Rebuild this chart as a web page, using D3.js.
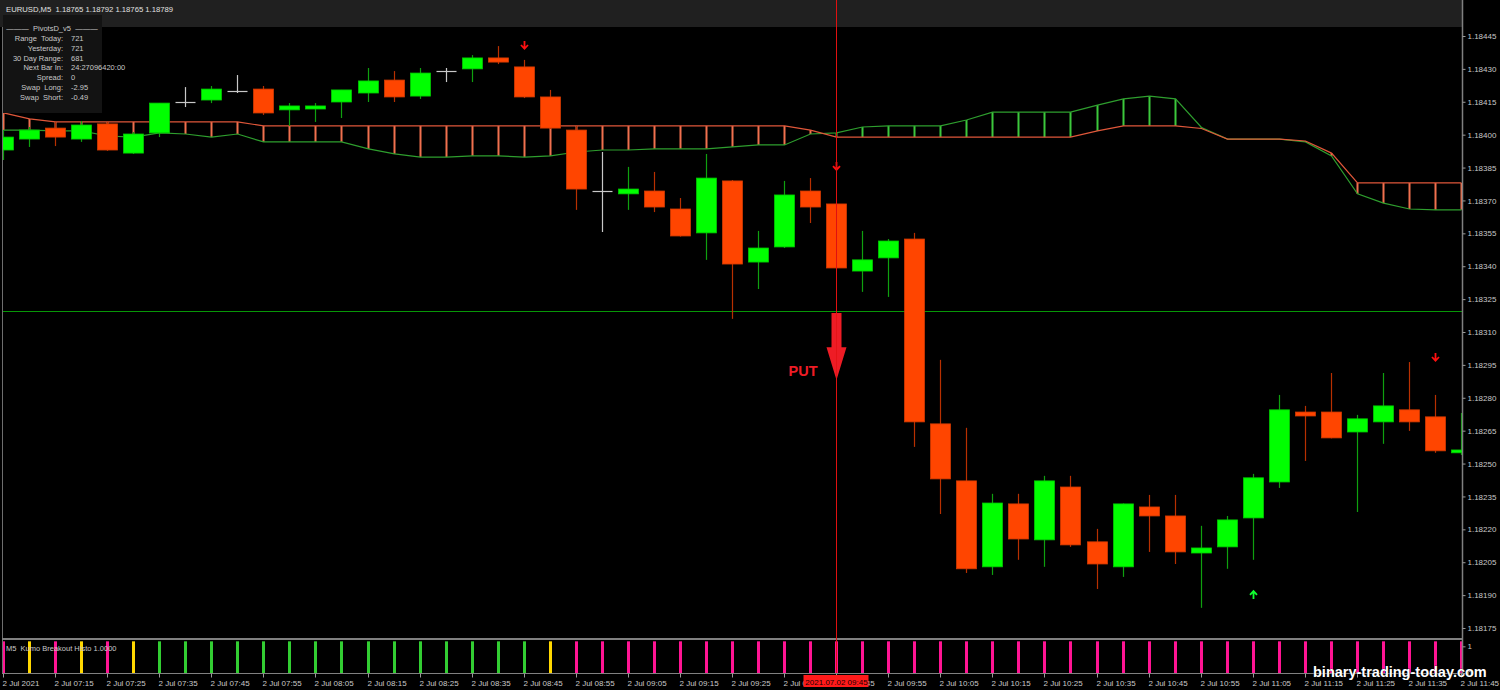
<!DOCTYPE html>
<html><head><meta charset="utf-8">
<script src="https://cdn.jsdelivr.net/npm/d3@7"></script>
<style>html,body{margin:0;padding:0;background:#000;overflow:hidden}svg{display:block}text{white-space:pre}</style>
</head><body><svg id="c" width="1500" height="690"></svg>
<script>
// ---- data ----
const times = ["07:05","07:10","07:15","07:20","07:25","07:30","07:35","07:40","07:45","07:50","07:55","08:00","08:05","08:10","08:15","08:20","08:25","08:30","08:35","08:40","08:45","08:50","08:55","09:00","09:05","09:10","09:15","09:20","09:25","09:30","09:35","09:40","09:45","09:50","09:55","10:00","10:05","10:10","10:15","10:20","10:25","10:30","10:35","10:40","10:45","10:50","10:55","11:00","11:05","11:10","11:15","11:20","11:25","11:30","11:35","11:40","11:45"];
const open  = [1.183930,1.183980,1.184030,1.183980,1.184049,1.183916,1.184008,1.184149,1.184158,1.184199,1.184208,1.184113,1.184117,1.184149,1.184190,1.184249,1.184176,1.184290,1.184300,1.184350,1.184309,1.184172,1.184021,1.183743,1.183730,1.183743,1.183661,1.183552,1.183789,1.183419,1.183488,1.183743,1.183684,1.183378,1.183438,1.183524,1.182681,1.182421,1.182029,1.182316,1.182152,1.182393,1.182143,1.182029,1.182302,1.182261,1.182092,1.182120,1.182252,1.182416,1.182735,1.182735,1.182644,1.182690,1.182745,1.182713,1.182549];
const high  = [1.184021,1.184035,1.184058,1.184062,1.184058,1.184012,1.184144,1.184217,1.184222,1.184272,1.184222,1.184144,1.184144,1.184204,1.184304,1.184290,1.184304,1.184304,1.184363,1.184404,1.184341,1.184204,1.184040,1.183921,1.183853,1.183830,1.183711,1.183912,1.183793,1.183561,1.183789,1.183802,1.183686,1.183561,1.183524,1.183552,1.182973,1.182663,1.182362,1.182362,1.182444,1.182444,1.182202,1.182318,1.182357,1.182357,1.182216,1.182261,1.182453,1.182813,1.182763,1.182913,1.182722,1.182913,1.182963,1.182813,1.182731];
const low   = [1.183885,1.183944,1.183948,1.183967,1.183926,1.183912,1.183989,1.184126,1.184144,1.184190,1.184090,1.184040,1.184058,1.184076,1.184149,1.184149,1.184163,1.184240,1.184240,1.184322,1.184167,1.184026,1.183657,1.183556,1.183657,1.183647,1.183535,1.183429,1.183160,1.183296,1.183483,1.183597,1.183390,1.183283,1.183260,1.182576,1.182270,1.182001,1.181992,1.182061,1.182029,1.182120,1.181928,1.181983,1.182097,1.182042,1.181842,1.182020,1.182061,1.182389,1.182512,1.182615,1.182279,1.182590,1.182649,1.182549,1.182539];
const close = [1.183989,1.184021,1.183989,1.184044,1.183930,1.184003,1.184144,1.184149,1.184208,1.184199,1.184099,1.184131,1.184131,1.184204,1.184245,1.184172,1.184281,1.184290,1.184350,1.184331,1.184172,1.184030,1.183752,1.183743,1.183752,1.183670,1.183538,1.183802,1.183410,1.183483,1.183725,1.183670,1.183392,1.183429,1.183515,1.182690,1.182430,1.182020,1.182320,1.182156,1.182421,1.182129,1.182042,1.182316,1.182261,1.182097,1.182115,1.182243,1.182435,1.182745,1.182717,1.182617,1.182704,1.182763,1.182690,1.182558,1.182562];
// Kumo lines
const spanA = [1.184099,1.184072,1.184058,1.184058,1.184058,1.184058,1.184058,1.184058,1.184058,1.184058,1.184040,1.184040,1.184040,1.184040,1.184040,1.184040,1.184040,1.184040,1.184040,1.184040,1.184040,1.184040,1.184040,1.184040,1.184040,1.184040,1.184040,1.184040,1.184040,1.184040,1.184040,1.184021,1.183989,1.183989,1.183989,1.183989,1.183989,1.183989,1.183989,1.183989,1.183989,1.183989,1.184017,1.184040,1.184040,1.184040,1.184028,1.183980,1.183980,1.183980,1.183971,1.183916,1.183780,1.183780,1.183780,1.183780,1.183780];
const spanB = [1.184021,1.184021,1.184017,1.184017,1.183994,1.183989,1.184008,1.184003,1.183989,1.184003,1.183967,1.183967,1.183967,1.183967,1.183935,1.183912,1.183898,1.183898,1.183903,1.183903,1.183898,1.183903,1.183921,1.183930,1.183930,1.183935,1.183935,1.183935,1.183944,1.183953,1.183953,1.184003,1.184008,1.184035,1.184040,1.184040,1.184040,1.184067,1.184103,1.184103,1.184103,1.184103,1.184135,1.184163,1.184176,1.184163,1.184033,1.183980,1.183980,1.183980,1.183967,1.183903,1.183730,1.183688,1.183661,1.183657,1.183657];
// Kumo breakout histogram state per bar
const histoState = ["bear","flat","bear","flat","bear","flat","bull","bull","bull","bull","bull","bull","bull","bull","bull","bull","bull","bull","bull","bull","bull","flat","bear","bear","bear","bear","bear","bear","bear","bear","bear","bear","bear","bear","bear","bear","bear","bear","bear","bear","bear","bear","bear","bear","bear","bear","bear","bear","bear","bear","bear","bear","bear","bear","bear","bear","bear"];
const histoValue = new Array(57).fill(1);
// signal arrows
const sigIndex = [20, 32, 48, 55];
const sigType  = ["sell","sell","buy","sell"];
const sigPrice = [1.184409, 1.183857, 1.181901, 1.182986];
// PUT signal
const putIndex = 32, putTop = 1.183187, putTip = 1.182881, putLabel = "PUT";
const hLinePrice = 1.183196;
const crossIndex = 32, crossLabel = "2021.07.02 09:45";
const priceTicks = [1.18445,1.18430,1.18415,1.18400,1.18385,1.18370,1.18355,1.18340,1.18325,1.18310,1.18295,1.18280,1.18265,1.18250,1.18235,1.18220,1.18205,1.18190,1.18175];
const titleText = "EURUSD,M5  1.18765 1.18792 1.18765 1.18789";
const pivotTitle = "———  PivotsD_v5  ———";
const pivotLabels = ["Range  Today:","Yesterday:","30 Day Range:","Next Bar In:","Spread:","Swap  Long:","Swap  Short:"];
const pivotValues = ["721","721","681","24:27096420:00","0","-2.95","-0.49"];
const histoTitle = "M5  Kumo Breakout Histo 1.0000";
const watermark = "binary-trading-today.com";

// ---- drawing ----
const svg = d3.select("#c");
const FONT = "'Liberation Sans', Arial, sans-serif";
const TXT = "#c8c8c8";
svg.append("rect").attr("width",1500).attr("height",690).attr("fill","#000");

const idx = d3.range(open.length);
const x = d3.scaleLinear().domain([0,56]).range([3,1461]);
const y = d3.scaleLinear().domain([1.18175,1.18445]).range([628,36]);
const yH = d3.scaleLinear().domain([0,1.2]).range([673,641]);
const px = i => Math.round(x(i));

// title band
svg.append("rect").attr("x",0).attr("y",0).attr("width",1462).attr("height",27).attr("fill","#202020");

const defs = svg.append("defs");
defs.append("clipPath").attr("id","mainClip").append("rect").attr("x",3).attr("y",0).attr("width",1459).attr("height",637);
const main = svg.append("g").attr("clip-path","url(#mainClip)");

// kumo hatches
main.selectAll("line.hatch").data(idx).join("line")
  .attr("x1",i=>px(i)+0.5).attr("x2",i=>px(i)+0.5)
  .attr("y1",i=>y(spanA[i])).attr("y2",i=>y(spanB[i]))
  .attr("stroke",i=> spanA[i] >= spanB[i] ? "#f0704e" : "#3cc83c")
  .attr("stroke-width",2);
main.append("path").datum(idx).attr("d",d3.line().x(i=>px(i)+0.5).y(i=>y(spanB[i]))).attr("fill","none").attr("stroke","#2e9e2e").attr("stroke-width",1.2);
main.append("path").datum(idx).attr("d",d3.line().x(i=>px(i)+0.5).y(i=>y(spanA[i]))).attr("fill","none").attr("stroke","#e0573a").attr("stroke-width",1.2);

// horizontal level
const hy = Math.round(y(hLinePrice))+0.5;
main.append("line").attr("x1",0).attr("x2",1462).attr("y1",hy).attr("y2",hy).attr("stroke","#079707").attr("stroke-width",1.2);

// candles
const cg = main.append("g");
idx.forEach(i=>{
  const cx = px(i)+0.5;
  const o=open[i], c=close[i];
  const doji = Math.abs(o-c) < 1e-9;
  const bull = c > o;
  const wickCol = doji ? "#c8c8c8" : (bull ? "#0fa00f" : "#b83000");
  cg.append("line").attr("x1",cx).attr("x2",cx).attr("y1",y(high[i])).attr("y2",y(low[i])).attr("stroke",wickCol).attr("stroke-width",1.2);
  if(doji){
    cg.append("line").attr("x1",cx-10).attr("x2",cx+10).attr("y1",Math.round(y(o))+0.5).attr("y2",Math.round(y(o))+0.5).attr("stroke","#c8c8c8").attr("stroke-width",1.2);
  } else {
    const top = y(Math.max(o,c)), bot = y(Math.min(o,c));
    cg.append("rect").attr("x",cx-10).attr("y",top).attr("width",20).attr("height",Math.max(2,bot-top))
      .attr("fill", bull ? "#00ff00" : "#ff4500")
      .attr("stroke", bull ? "#00c800" : "#d23a00").attr("stroke-width",0.8);
  }
});

// small signal arrows
sigIndex.forEach((si,k)=>{
  const cx = px(si)+0.5, cy = y(sigPrice[k]);
  const sell = sigType[k]==="sell";
  const col = sell ? "#ff1010" : "#10ff30";
  const d = sell ? 1 : -1;
  main.append("path")
    .attr("d",`M${cx},${cy-4*d} L${cx},${cy+3.5*d} M${cx-3.5},${cy} L${cx},${cy+3.8*d} L${cx+3.5},${cy}`)
    .attr("fill","none").attr("stroke",col).attr("stroke-width",1.8);
});

// info box
svg.append("rect").attr("x",3).attr("y",15).attr("width",99).attr("height",98).attr("fill","#131313");
svg.append("text").attr("x",6).attr("y",12).attr("font-family",FONT).attr("font-size",7.7).attr("fill","#e0e0e0").text(titleText);
svg.append("text").attr("x",52).attr("y",31).attr("text-anchor","middle").attr("font-family",FONT).attr("font-size",7.5).attr("fill",TXT).text(pivotTitle);
pivotLabels.forEach((l,k)=>{
  const by = 41 + k*9.8;
  svg.append("text").attr("x",63).attr("y",by).attr("text-anchor","end").attr("font-family",FONT).attr("font-size",7.5).attr("fill",TXT).text(l);
  svg.append("text").attr("x",71).attr("y",by).attr("font-family",FONT).attr("font-size",7.5).attr("fill",TXT).text(pivotValues[k]);
});

// indicator panel: histogram
svg.selectAll("rect.h").data(idx).join("rect")
  .attr("x",i=>px(i)-1).attr("width",3)
  .attr("y",i=>yH(histoValue[i])-5).attr("height",i=>yH(0)-yH(histoValue[i])+5)
  .attr("fill",i=> histoState[i]==="bull" ? "#32cd32" : histoState[i]==="flat" ? "#ffd700" : "#ff1493");
svg.append("text").attr("x",6).attr("y",651).attr("font-family",FONT).attr("font-size",7.5).attr("fill",TXT).text(histoTitle);

// frame lines
svg.append("line").attr("x1",2.5).attr("x2",2.5).attr("y1",27).attr("y2",673).attr("stroke","#6e6e6e");
svg.append("line").attr("x1",2).attr("x2",1462).attr("y1",639).attr("y2",639).attr("stroke","#808080").attr("stroke-width",2);
svg.append("line").attr("x1",1462.5).attr("x2",1462.5).attr("y1",0).attr("y2",674).attr("stroke","#808080").attr("stroke-width",1.5);

// right price axis
const ra = svg.append("g").attr("transform","translate(1462.5,0)")
  .call(d3.axisRight(y).tickValues(priceTicks).tickFormat(d3.format(".5f")).tickSize(3).tickPadding(2));
ra.select(".domain").remove();
ra.selectAll("line").attr("stroke","#9a9a9a");
ra.selectAll("text").attr("font-family",FONT).attr("font-size",8).attr("fill",TXT);

// indicator axis
const ha = svg.append("g").attr("transform","translate(1462.5,0)")
  .call(d3.axisRight(yH).tickValues([0,1]).tickFormat(d3.format("d")).tickSize(3).tickPadding(2));
ha.select(".domain").remove();
ha.selectAll("line").attr("stroke","#9a9a9a");
ha.selectAll("text").attr("font-family",FONT).attr("font-size",8).attr("fill",TXT);

// bottom time axis
const evenIdx = idx.filter(i=>i%2===0);
const ba = svg.append("g").attr("transform","translate(0.5,673.5)")
  .call(d3.axisBottom(x).tickValues(evenIdx).tickSize(4).tickFormat(i=> i===0 ? "2 Jul 2021" : "2 Jul " + times[i]));
ba.select(".domain").attr("d","M1.5,0H1462").attr("stroke","#808080");
ba.selectAll(".tick line").attr("stroke","#9a9a9a");
ba.selectAll(".tick").attr("transform",i=>`translate(${px(i)},0)`);
ba.selectAll("text").attr("font-family",FONT).attr("font-size",8).attr("fill",TXT).attr("text-anchor","start").attr("x",-1).attr("y",12).attr("dy",0);

// crosshair
const cxh = px(crossIndex)+0.5;
svg.append("line").attr("x1",cxh).attr("x2",cxh).attr("y1",0).attr("y2",673).attr("stroke","#e01010").attr("stroke-width",1);
svg.append("rect").attr("x",cxh-33).attr("y",675).attr("width",65).attr("height",12).attr("fill","#ff1a1a");
svg.append("text").attr("x",cxh).attr("y",684.5).attr("text-anchor","middle").attr("font-family",FONT).attr("font-size",8).attr("fill","#200000").text(crossLabel);

// PUT arrow
const pcx = px(putIndex)+0.5, pt = y(putTop), ptip = y(putTip), pneck = pt + (ptip-pt)*0.51;
svg.append("path").attr("d",`M${pcx-5},${pt} H${pcx+5} V${pneck} H${pcx+10} L${pcx},${ptip} L${pcx-10},${pneck} H${pcx-5} Z`).attr("fill","#ee1c25");
svg.append("line").attr("x1",cxh).attr("x2",cxh).attr("y1",pt).attr("y2",ptip+5).attr("stroke","#e01010").attr("stroke-width",1).attr("opacity",0.6);
svg.append("text").attr("x",pcx-48).attr("y",ptip-4).attr("font-family",FONT).attr("font-weight","bold").attr("font-size",14.5).attr("fill","#ee1c25").text(putLabel);

// watermark
svg.append("text").attr("x",1313).attr("y",677).attr("font-family",FONT).attr("font-weight","bold").attr("font-size",14.5)
  .attr("fill","#ffffff").attr("stroke","#000").attr("stroke-width",0.6).attr("paint-order","stroke").text(watermark);
</script></body></html>
